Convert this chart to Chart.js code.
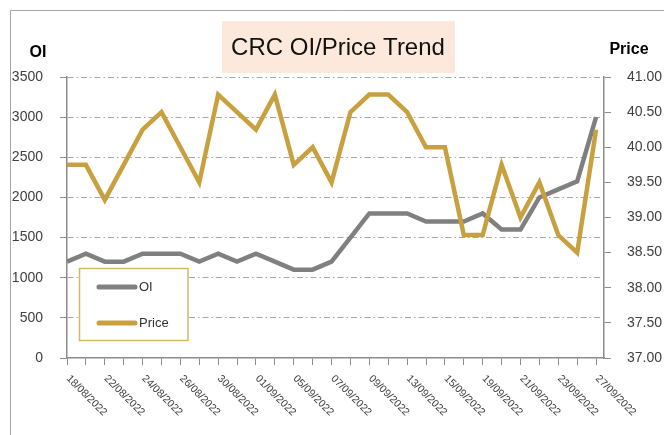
<!DOCTYPE html>
<html>
<head>
<meta charset="utf-8">
<script src="https://cdn.jsdelivr.net/npm/chart.js@4/dist/chart.umd.min.js"></script>
<style>
  html, body { margin: 0; padding: 0; background: #fff; }
  #wrap { width: 664px; height: 435px; position: relative; }
</style>
</head>
<body>
<div id="wrap"><canvas id="c" width="664" height="435"></canvas></div>
<script>
const dates = ["18/08/2022","19/08/2022","22/08/2022","23/08/2022","24/08/2022","25/08/2022","26/08/2022",
  "29/08/2022","30/08/2022","31/08/2022","01/09/2022","02/09/2022","05/09/2022","06/09/2022","07/09/2022",
  "08/09/2022","09/09/2022","12/09/2022","13/09/2022","14/09/2022","15/09/2022","16/09/2022","19/09/2022",
  "20/09/2022","21/09/2022","22/09/2022","23/09/2022","26/09/2022","27/09/2022"];
const oi = [1200,1300,1200,1200,1300,1300,1300,1200,1300,1200,1300,1200,1100,1100,1200,
  1500,1800,1800,1800,1700,1700,1700,1800,1600,1600,2000,2100,2200,3000];
const price = [39.75,39.75,39.25,39.75,40.25,40.50,40.00,39.50,40.75,40.50,40.25,40.75,39.75,40.00,39.50,
  40.50,40.75,40.75,40.50,40.00,40.00,38.75,38.75,39.75,39.00,39.50,38.75,38.50,40.25];
const seriesNames = ["OI", "Price"];
const titleText = "CRC OI/Price Trend";

const GRAY = "#808080";
const GOLD = "#C9A03F";
const FONT = "'Liberation Sans', Arial, sans-serif";

const decor = {
  id: "decor",
  beforeDraw(chart) {
    const ctx = chart.ctx;
    ctx.save();
    ctx.fillStyle = "#fff";
    ctx.fillRect(0, 0, chart.width, chart.height);
    ctx.strokeStyle = "#A6A6A6";
    ctx.lineWidth = 1;
    ctx.beginPath();
    ctx.moveTo(10.5, chart.height);
    ctx.lineTo(10.5, 10.5);
    ctx.lineTo(chart.width, 10.5);
    ctx.stroke();
    ctx.fillStyle = "#FCE9DB";
    ctx.fillRect(222, 21, 233, 52);
    ctx.fillStyle = "#111";
    ctx.font = "24px " + FONT;
    ctx.textAlign = "center";
    ctx.textBaseline = "middle";
    ctx.fillText(titleText, 338, 48);
    ctx.font = "bold 16px " + FONT;
    ctx.fillStyle = "#000";
    ctx.fillText(seriesNames[0], 38, 53);
    ctx.fillText(seriesNames[1], 629, 50);
    ctx.restore();
  },
  afterDatasetsDraw(chart) {
    const ctx = chart.ctx;
    ctx.save();
    ctx.fillStyle = "#fff";
    ctx.fillRect(79.5, 268.5, 108.5, 72);
    ctx.strokeStyle = "#D6B768";
    ctx.lineWidth = 1.5;
    ctx.strokeRect(79.5, 268.5, 108.5, 72);
    const items = [[seriesNames[0], GRAY, 287], [seriesNames[1], GOLD, 323]];
    ctx.lineCap = "round";
    ctx.font = "13px " + FONT;
    ctx.textAlign = "left";
    ctx.textBaseline = "middle";
    for (const [name, col, y] of items) {
      ctx.strokeStyle = col;
      ctx.lineWidth = 5;
      ctx.beginPath();
      ctx.moveTo(99, y);
      ctx.lineTo(135, y);
      ctx.stroke();
      ctx.fillStyle = "#333";
      ctx.fillText(name, 139, y);
    }
    ctx.restore();
  },
  afterDraw(chart) {
    const ctx = chart.ctx;
    const xs = chart.scales.x;
    ctx.save();
    ctx.font = "10.5px " + FONT;
    ctx.fillStyle = "#404040";
    ctx.textAlign = "left";
    ctx.textBaseline = "middle";
    for (let i = 0; i < dates.length; i += 2) {
      const x = xs.getPixelForValue(i);
      ctx.save();
      ctx.translate(x + 1, 377);
      ctx.rotate(Math.PI / 4);
      ctx.fillText(dates[i], 0, 0);
      ctx.restore();
    }
    ctx.restore();
  }
};

new Chart(document.getElementById("c"), {
  type: "line",
  data: {
    datasets: [
      {
        label: seriesNames[0],
        data: oi.map((v, i) => ({ x: i, y: v })),
        borderColor: GRAY,
        backgroundColor: GRAY,
        borderWidth: 4.5,
        pointRadius: 0,
        tension: 0,
        borderJoinStyle: "miter",
        yAxisID: "y",
        order: 1
      },
      {
        label: seriesNames[1],
        data: price.map((v, i) => ({ x: i, y: v })),
        borderColor: GOLD,
        backgroundColor: GOLD,
        borderWidth: 4.5,
        pointRadius: 0,
        tension: 0,
        borderJoinStyle: "miter",
        yAxisID: "y1",
        order: 0
      }
    ]
  },
  options: {
    responsive: false,
    animation: false,
    devicePixelRatio: 1,
    layout: { padding: { top: 77, left: 0, right: 0, bottom: 0 } },
    plugins: { legend: { display: false }, title: { display: false }, tooltip: { enabled: false } },
    scales: {
      x: {
        type: "linear",
        position: "bottom",
        min: 0,
        max: dates.length - 1 + 0.42,
        afterFit: s => { s.height = 77; },
        ticks: { display: false, stepSize: 1, includeBounds: false, autoSkip: false },
        grid: { display: true, drawOnChartArea: false, drawTicks: true, tickLength: 7, tickColor: "#8C8C8C", tickWidth: 1 },
        border: { display: true, color: "#8C8C8C", width: 1.5 }
      },
      y: {
        type: "linear",
        position: "left",
        min: 0,
        max: 3500,
        afterFit: s => { s.width = 67; },
        ticks: { stepSize: 500, padding: 17, color: "#404040", font: { family: FONT, size: 14 },
          callback: v => String(v) },
        grid: {
          color: c => (c.tick && c.tick.value === 0) ? "rgba(0,0,0,0)" : "#A6A6A6",
          lineWidth: 1,
          drawTicks: true,
          tickLength: 7,
          tickColor: "#8C8C8C",
          tickBorderDash: []
        },
        border: { display: true, color: "#8C8C8C", width: 1.5, dash: [6, 3, 1.5, 3] }
      },
      y1: {
        type: "linear",
        position: "right",
        min: 37,
        max: 41,
        afterFit: s => { s.width = 60; },
        ticks: { stepSize: 0.5, padding: 16, color: "#404040", font: { family: FONT, size: 14 },
          callback: v => Number(v).toFixed(2) },
        grid: { drawOnChartArea: false, drawTicks: true, tickLength: 7, tickColor: "#8C8C8C" },
        border: { display: true, color: "#8C8C8C", width: 1.5 }
      }
    }
  },
  plugins: [decor]
});
</script>
</body>
</html>
